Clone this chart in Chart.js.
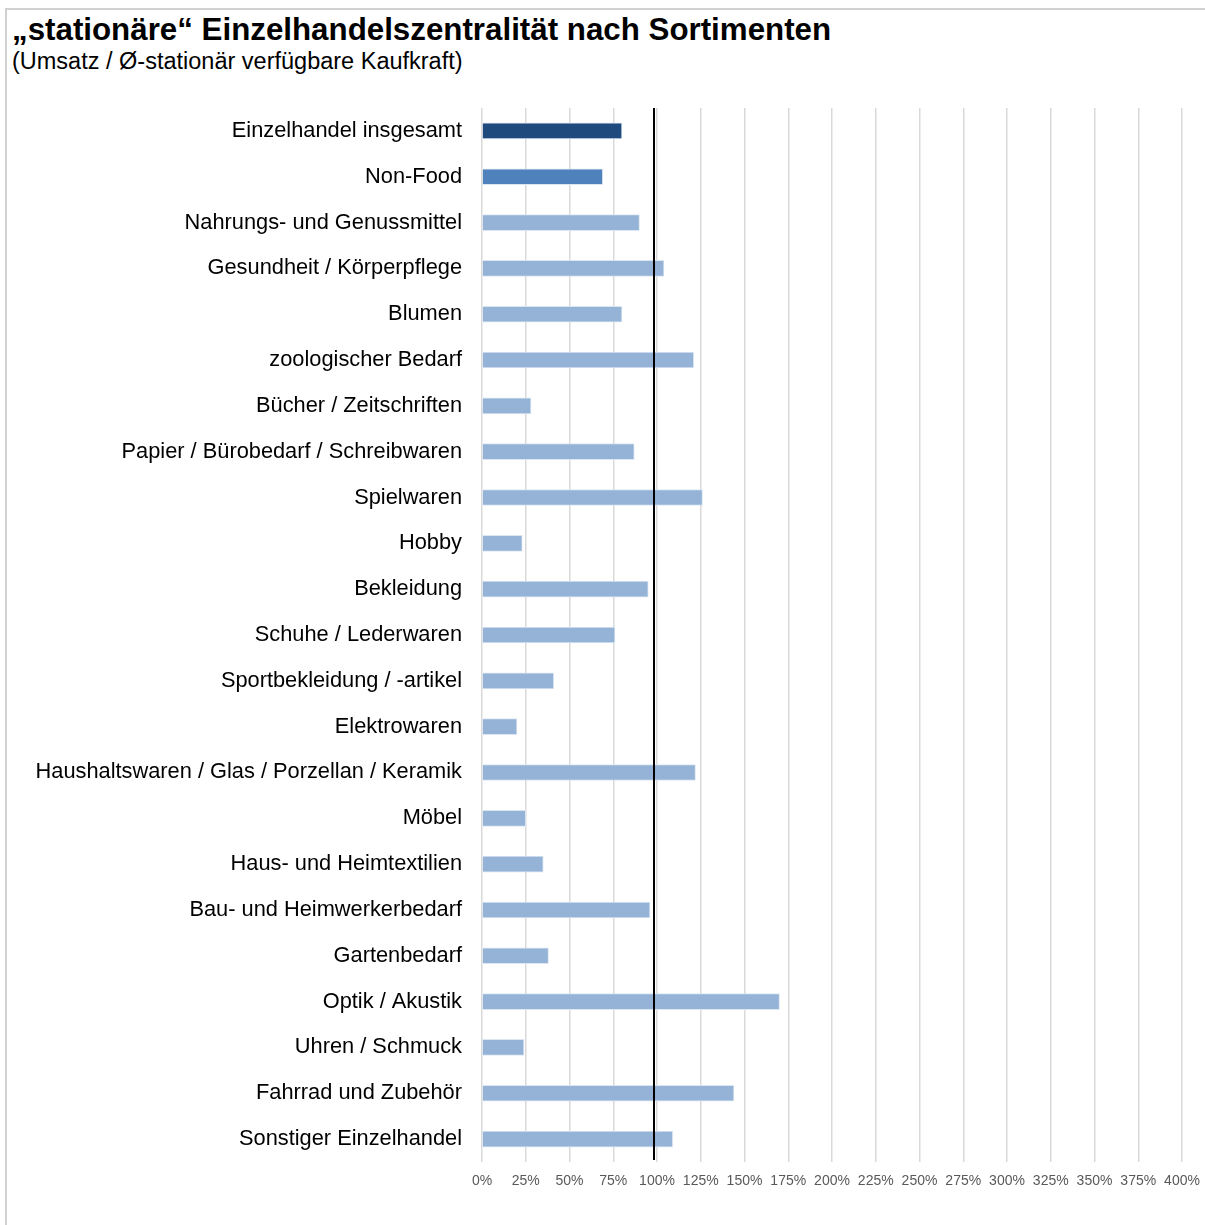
<!DOCTYPE html>
<html>
<head>
<meta charset="utf-8">
<script src="https://cdn.jsdelivr.net/npm/chart.js@4"></script>
<style>
  body { margin: 0; background: #fff; font-family: "Liberation Sans", Arial, sans-serif; }
  #frame { position: absolute; left: 5px; top: 8px; width: 1205px; height: 1230px; border-top: 2px solid #d0d0d0; border-left: 2px solid #d0d0d0; }
  #title { position: absolute; left: 12px; top: 12px; font-size: 31.3px; font-weight: bold; color: #000; white-space: nowrap; }
  #subtitle { position: absolute; left: 12px; top: 48px; font-size: 23.5px; color: #000; white-space: nowrap; }
  #wrap { position: absolute; left: 0; top: 0; width: 1205px; height: 1225px; }
</style>
</head>
<body>
<div id="frame"></div>
<div id="title">„stationäre“ Einzelhandelszentralität nach Sortimenten</div>
<div id="subtitle">(Umsatz / Ø-stationär verfügbare Kaufkraft)</div>
<div id="wrap"><canvas id="myChart"></canvas></div>
<script>
// categories (top to bottom)
const labels = [
  "Einzelhandel insgesamt",
  "Non-Food",
  "Nahrungs- und Genussmittel",
  "Gesundheit / Körperpflege",
  "Blumen",
  "zoologischer Bedarf",
  "Bücher / Zeitschriften",
  "Papier / Bürobedarf / Schreibwaren",
  "Spielwaren",
  "Hobby",
  "Bekleidung",
  "Schuhe / Lederwaren",
  "Sportbekleidung / -artikel",
  "Elektrowaren",
  "Haushaltswaren / Glas / Porzellan / Keramik",
  "Möbel",
  "Haus- und Heimtextilien",
  "Bau- und Heimwerkerbedarf",
  "Gartenbedarf",
  "Optik / Akustik",
  "Uhren / Schmuck",
  "Fahrrad und Zubehör",
  "Sonstiger Einzelhandel"
];

// zentralitaet in %
const centrality = [80, 69, 90, 104, 80, 121, 28, 87, 126, 23, 95, 76, 41, 20, 122, 25, 35, 96, 38, 170, 24, 144, 109];

// x axis ticks
const xMin = 0;
const xMax = 400;
const xStep = 25;

// reference line
const refLine = 100;

// colours: total, non-food, single assortments
const barColors = centrality.map((v, i) => {
  if (i === 0) return "#1f4a7e";
  if (i === 1) return "#4f81bd";
  return "#95b3d7";
});

// black line at 100%
const refLinePlugin = {
  id: "refLine",
  afterDatasetsDraw(chart) {
    const x = chart.scales.x.getPixelForValue(refLine);
    const ctx = chart.ctx;
    ctx.save();
    ctx.strokeStyle = "#000";
    ctx.lineWidth = 2;
    ctx.beginPath();
    ctx.moveTo(x - 3, chart.chartArea.top);
    ctx.lineTo(x - 3, chart.chartArea.bottom - 2);
    ctx.stroke();
    ctx.restore();
  },
};

const data = {
  labels,
  datasets: [
    {
      data: centrality,
      backgroundColor: barColors,
      borderColor: "#dce6f2",
      borderWidth: { right: 1, top: 1, bottom: 1 },
      barThickness: 16,
    },
  ],
};

const config = {
  type: "bar",
  data,
  plugins: [refLinePlugin],
  options: {
    indexAxis: "y",
    responsive: true,
    maintainAspectRatio: false,
    animation: false,
    layout: { padding: { left: 0, top: 108, right: 0, bottom: 0 } },
    plugins: {
      legend: { display: false },
      tooltip: { enabled: false },
    },
    scales: {
      x: {
        min: xMin,
        max: xMax,
        grid: { color: "#d9d9d9", lineWidth: 1.5, drawTicks: false },
        border: { display: false },
        ticks: {
          stepSize: xStep,
          autoSkip: false,
          maxRotation: 0,
          padding: 11,
          color: "#595959",
          font: { family: "Liberation Sans", size: 14 },
          callback: (v) => v + "%",
        },
        afterFit(scale) {
          scale.height = 1225 - 1162;
          scale.paddingRight = 23;
          scale.paddingLeft = 0;
        },
      },
      y: {
        grid: { display: false, drawTicks: false },
        border: { display: false },
        ticks: {
          padding: 20,
          color: "#000",
          font: { family: "Liberation Sans", size: 21.8 },
        },
        afterFit(scale) {
          scale.width = 482;
        },
      },
    },
  },
};

let myChart = new Chart(document.getElementById("myChart"), config);
</script>
</body>
</html>
